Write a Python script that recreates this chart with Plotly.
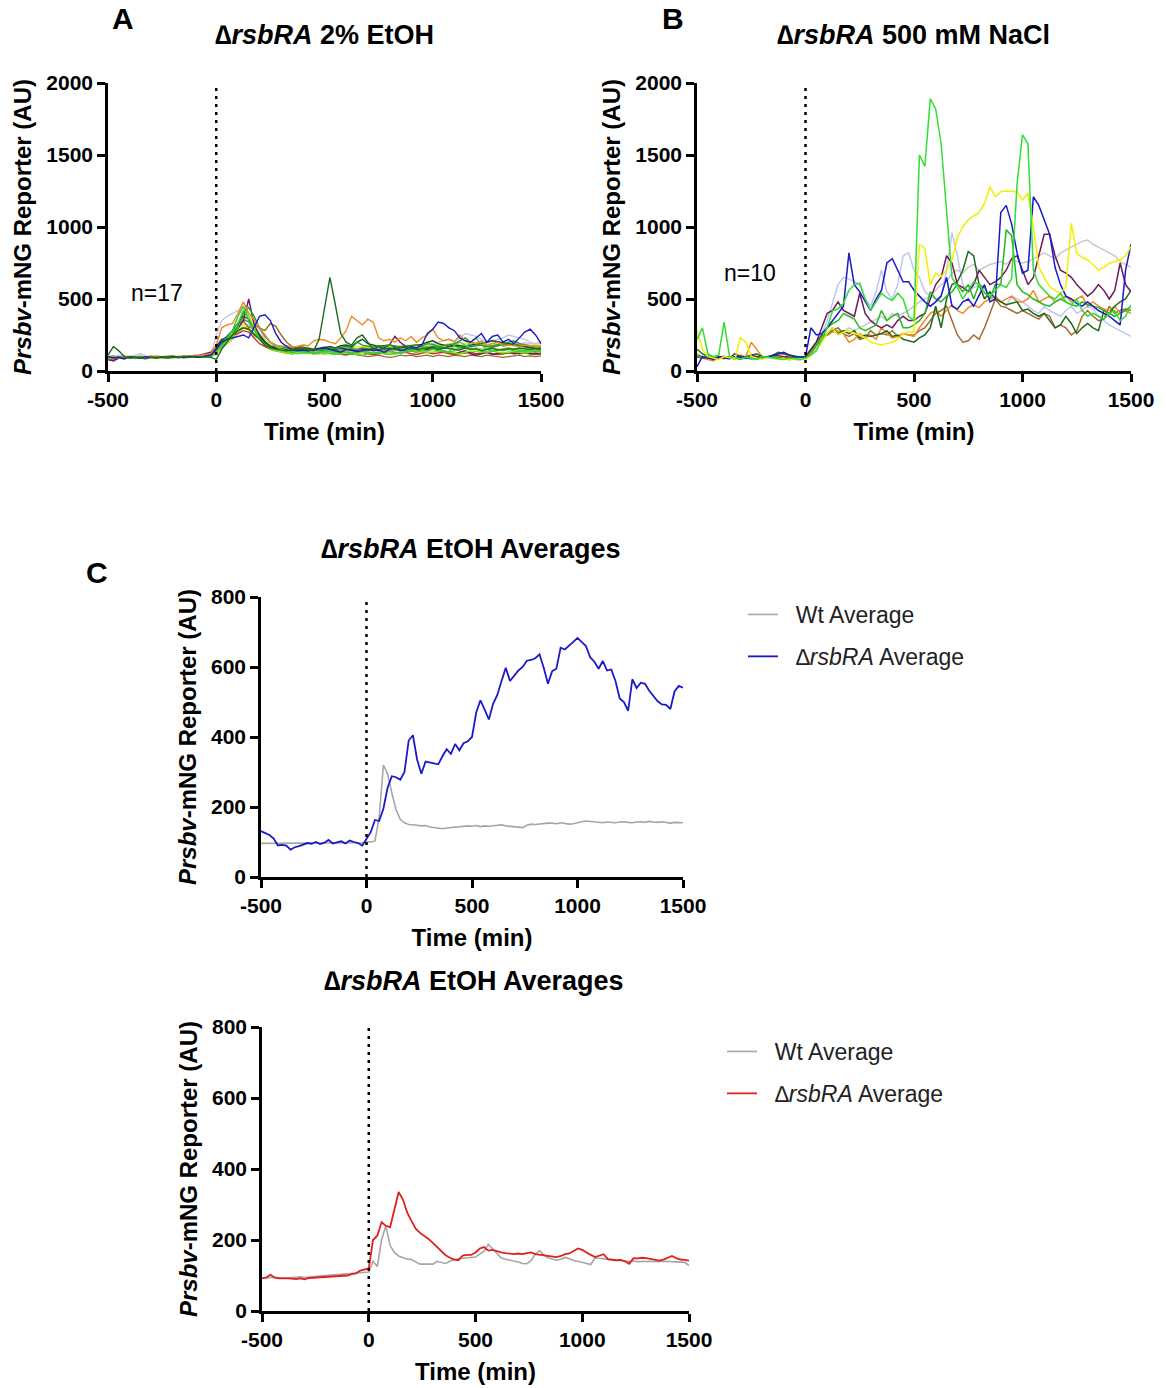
import plotly.graph_objects as go

FONT = "Liberation Sans"

# ---------------- time grids ----------------
T25 = list(range(-500, 1501, 25))   # single-cell traces (panels A, B)
T20 = list(range(-500, 1501, 20))   # averages (panel C)

X_TICKS = [-500, 0, 500, 1000, 1500]
Y_TICKS_AB = [0, 500, 1000, 1500, 2000]
Y_TICKS_C = [0, 200, 400, 600, 800]

# ---------------- Panel A : dRsbRA 2% EtOH (n=17) ----------------
a01_orange = [95,100,90,105,95,100,92,98,104,96,100,95,102,98,105,100,110,108,115,120,
              180,300,320,330,400,480,400,360,300,250,200,180,170,175,165,170,180,175,210,220,
              215,200,190,230,280,380,350,320,360,340,230,210,220,200,230,210,240,200,230,250,
              290,230,210,220,200,250,210,200,190,210,180,190,200,170,180,175,170,180,175,170,175]
a02_blue = [100,90,95,85,100,95,90,100,95,92,98,95,100,96,94,100,98,95,105,110,
            150,200,220,230,240,250,230,310,380,390,350,260,200,170,150,140,145,140,150,160,
            165,150,140,130,150,145,135,140,150,140,145,130,150,160,140,150,170,160,180,260,
            290,340,330,300,280,230,210,200,230,260,200,240,250,200,220,190,230,270,290,250,190]
a03_darkgreen = [110,170,140,100,90,95,92,88,95,90,100,95,98,92,100,95,102,98,100,95,
                 80,150,200,250,280,300,290,250,220,180,160,150,145,140,150,160,155,150,140,220,
                 440,650,460,260,200,180,230,250,200,150,170,155,160,150,160,165,160,150,155,160,
                 165,150,160,155,150,145,160,150,155,140,150,160,145,150,155,150,160,155,150,155,150]
a04_green = [90,95,100,92,98,88,95,100,96,92,98,100,95,102,98,100,105,100,98,100,
             130,200,230,280,380,450,350,280,220,180,160,150,140,135,130,140,135,130,125,130,
             140,135,130,140,130,125,135,140,130,120,130,135,140,130,125,135,140,130,145,140,
             150,140,135,130,140,150,160,200,230,180,150,140,145,140,150,140,135,145,140,135,140]
a05_lime = [85,90,95,88,92,86,90,95,92,88,90,94,92,95,90,96,98,95,100,102,
            120,180,210,240,300,420,380,300,220,180,150,140,130,125,120,130,125,120,130,125,
            120,130,125,120,130,125,120,130,135,125,130,120,130,125,130,135,140,130,135,130,
            130,140,135,130,125,120,130,140,135,130,135,140,130,125,130,135,130,125,130,135,130]
a06_maroon = [80,70,90,85,95,100,90,85,95,100,92,88,95,100,96,100,105,110,120,130,
              170,220,230,250,300,350,500,320,250,200,170,160,150,140,145,150,155,150,145,150,
              160,155,150,160,150,145,140,150,145,155,150,160,180,240,200,170,160,150,140,150,
              160,150,140,130,120,130,140,120,110,120,130,115,125,120,130,120,125,130,120,125,120]
a07_brown = [90,85,95,100,92,88,95,90,100,95,98,92,96,100,95,98,100,102,105,110,
             140,200,240,280,330,350,300,320,300,280,330,310,250,200,170,150,140,130,125,120,
             130,125,120,115,110,120,115,110,100,105,110,100,95,100,110,105,110,100,105,110,
             100,110,105,100,110,105,100,110,105,100,110,105,100,95,100,105,110,100,105,100,105]
a08_yellow = [100,95,90,100,105,95,98,92,100,96,102,98,95,100,105,98,100,102,100,105,
              130,170,200,230,270,320,300,260,220,180,160,150,145,140,150,145,150,155,150,160,
              155,150,160,165,150,155,160,170,165,160,170,175,165,170,160,175,170,165,180,175,
              170,180,175,190,180,185,190,200,180,190,185,180,175,185,190,180,185,175,170,180,175]
a09_lavender = [100,95,110,105,100,110,120,105,95,100,98,102,95,100,98,96,100,102,100,105,
                250,350,380,400,420,400,380,350,280,220,180,160,150,140,135,130,140,135,130,140,
                150,145,140,150,140,145,150,140,150,160,150,145,140,150,160,170,180,175,170,180,
                190,200,210,220,210,230,260,250,240,220,200,210,220,230,250,240,230,220,200,190,200]
a10_gray = [95,100,98,96,100,102,98,95,100,105,100,98,96,100,102,100,98,100,102,105,
            130,180,220,260,300,330,320,280,240,200,180,170,165,160,155,160,165,160,155,160,
            165,160,155,160,165,170,165,160,170,165,175,170,165,170,175,180,175,170,180,175,
            180,185,180,190,185,180,190,185,195,190,185,190,195,200,190,185,190,195,190,185,190]
a11_midgreen = [100,105,95,100,92,98,102,96,100,95,98,100,105,95,100,102,98,100,95,100,
                140,190,220,250,310,400,440,380,300,240,200,180,170,160,150,155,160,150,145,150,
                150,160,155,165,170,160,200,180,170,165,175,170,180,175,170,160,175,180,170,190,
                185,170,175,180,190,210,230,200,190,180,170,175,180,190,200,210,190,180,175,170,165]
a12_forest = [90,100,95,98,92,100,96,94,100,98,95,100,102,98,96,100,105,102,100,108,
              150,210,240,280,330,380,360,300,250,200,170,160,155,150,160,170,165,160,150,155,
              160,170,160,175,180,170,200,220,190,180,170,175,180,170,165,170,175,180,185,200,
              210,190,180,170,180,175,170,180,185,190,200,210,205,200,190,180,175,170,160,155,150]
a13_red = [80,75,90,95,92,88,95,90,100,96,94,98,100,96,102,100,104,108,112,118,
           160,200,230,250,260,280,270,230,190,170,150,140,130,125,120,125,130,125,120,125,
           120,125,130,120,115,120,125,130,120,115,120,125,130,120,125,130,120,115,125,130,
           120,125,130,120,115,120,125,130,120,125,130,120,115,120,125,130,120,125,120,115,120]
a14_brightgreen = [95,90,100,95,98,92,96,100,94,98,100,96,92,98,100,95,98,102,100,104,
                   140,180,220,260,330,420,400,360,300,250,200,170,150,140,130,120,125,130,120,125,
                   130,120,115,125,130,120,115,110,120,125,130,120,115,120,125,130,140,150,160,170,
                   160,150,140,130,180,200,180,160,150,140,130,135,140,150,160,150,140,135,130,140,135]
a15_yellowgreen = [100,95,90,95,100,92,98,100,95,90,96,100,98,95,100,98,102,100,104,100,
                   120,160,190,220,260,300,310,280,250,210,180,160,150,140,135,130,135,140,145,140,
                   135,140,150,145,140,135,140,145,150,140,145,150,155,150,145,150,160,155,150,145,
                   150,155,160,165,170,160,155,150,160,155,150,145,150,155,160,150,145,150,155,150,145]
a16_seagreen = [90,95,100,92,98,100,96,94,100,98,95,100,96,98,102,100,98,104,100,102,
                130,170,210,240,290,360,340,290,240,200,170,150,145,140,135,140,145,150,145,140,
                145,150,140,145,150,155,150,160,155,150,145,150,155,160,150,145,150,155,160,165,
                170,165,160,170,175,165,160,170,175,180,170,165,175,180,185,190,180,170,165,160,155]
a17_olive = [100,95,92,98,100,96,94,100,98,102,96,100,98,95,100,102,98,100,104,106,
             140,190,220,240,280,300,290,260,230,200,180,160,150,145,140,145,150,145,140,145,
             140,145,150,140,145,150,145,140,145,150,140,145,150,145,140,145,150,145,150,155,
             150,155,160,155,150,155,160,155,150,145,150,155,150,145,150,155,150,145,150,145,150]

A_SERIES = [a10_gray, a09_lavender, a08_yellow, a17_olive, a15_yellowgreen, a16_seagreen,
            a13_red, a07_brown, a06_maroon, a12_forest, a05_lime, a14_brightgreen,
            a11_midgreen, a04_green, a01_orange, a02_blue, a03_darkgreen]
A_COLORS = ["#c8c8c8", "#c4c4f2", "#eeee10", "#8a8a20", "#a8dc3c", "#2e8b57",
            "#c83232", "#9c6a2c", "#6e1a5e", "#1a4d1a", "#7cf000", "#4cd44c",
            "#20a020", "#33cc33", "#f08a24", "#1a1ac8", "#1e6b1e"]

# ---------------- Panel B : dRsbRA 500 mM NaCl (n=10) ----------------
b01_brightgreen = [220,300,120,100,110,340,100,90,85,95,90,80,100,95,90,85,80,90,85,80,
                   90,110,140,220,300,420,430,470,560,600,610,500,420,480,540,510,490,540,500,380,
                   350,1500,1420,1890,1820,1580,1120,650,580,500,560,620,600,540,520,560,600,580,640,1300,
                   1640,1580,700,600,560,520,500,540,480,460,500,420,380,400,380,360,400,420,350,380,460]
b02_yellow = [280,150,100,90,80,100,90,85,230,200,100,90,80,95,85,80,90,75,85,80,
              80,110,150,200,260,300,250,270,280,260,250,230,200,190,180,190,200,220,260,270,
              270,880,850,600,680,655,700,770,930,1000,1050,1080,1100,1164,1280,1210,1245,1250,1245,1245,
              1187,1234,1002,724,650,585,560,539,585,1025,817,790,771,740,701,720,748,760,771,800,863]
b03_blue = [30,100,90,80,95,90,85,100,95,90,85,90,100,95,110,120,130,110,100,95,
            100,300,250,260,300,350,400,450,820,600,550,480,420,500,560,750,780,700,620,620,
            560,520,480,450,480,520,650,450,430,480,500,450,520,600,480,500,1100,1150,1020,820,
            680,700,1210,1150,1050,950,720,600,520,500,470,450,480,450,420,400,380,350,320,700,880]
b04_lavender = [120,100,90,95,100,90,85,95,100,90,95,85,90,95,100,90,95,85,80,75,
                90,120,180,250,350,480,600,650,640,620,600,500,450,550,700,550,500,600,800,820,
                700,650,550,520,500,520,700,960,800,600,550,580,600,550,500,520,480,450,520,500,
                480,450,420,400,450,420,400,380,420,450,400,420,450,430,380,350,320,300,280,260,240]
b05_gray = [100,95,90,100,95,90,100,95,90,85,95,100,95,90,100,95,90,95,100,95,
            100,120,160,220,250,280,260,270,300,280,300,320,340,360,380,350,400,380,400,420,
            450,480,500,520,560,600,620,680,700,680,720,740,700,720,740,750,760,740,780,760,
            750,760,780,800,820,800,780,820,840,860,880,900,910,880,860,840,820,800,760,740,720]
b06_maroon = [100,90,95,85,100,95,90,120,100,95,110,100,95,100,110,105,100,95,90,95,
              100,150,200,300,400,420,480,420,400,380,540,400,350,320,300,320,300,350,380,350,
              350,380,400,500,600,650,800,750,600,580,550,600,700,650,600,620,650,700,780,800,
              700,600,650,800,950,950,800,700,680,650,600,560,520,550,600,560,500,560,750,600,550]
b07_darkgreen = [150,120,100,90,95,100,90,85,100,95,110,120,100,95,110,130,120,110,100,95,
                 100,150,200,250,250,300,260,280,260,280,230,250,240,250,260,280,240,250,220,210,
                 200,230,250,300,450,300,500,600,620,700,830,800,600,500,550,500,480,460,470,480,
                 420,430,400,380,400,350,300,320,380,330,260,300,330,300,280,420,400,450,480,500,560]
b08_orange = [100,90,80,70,95,100,90,85,110,100,200,150,100,95,100,110,120,100,90,95,
              100,130,180,250,250,270,280,260,200,220,260,230,250,220,300,260,230,240,260,250,
              240,300,350,400,420,380,420,460,420,400,440,460,440,480,500,520,480,500,520,480,
              480,500,560,480,500,520,480,500,520,480,500,520,450,480,450,430,420,450,400,420,400]
b09_brown = [110,100,90,95,85,100,95,90,100,95,90,85,90,100,95,90,95,100,90,95,
             100,140,180,220,260,280,300,260,240,260,220,230,280,250,260,250,280,240,260,250,
             250,280,300,350,400,420,450,350,250,200,210,250,220,300,400,500,450,440,420,400,
             420,400,380,360,400,380,300,320,300,250,280,380,420,380,350,360,450,400,420,430,420]
b10_green = [100,95,110,90,95,85,100,90,80,95,100,85,90,95,100,90,85,80,90,100,
             90,120,180,220,300,330,350,400,380,360,300,280,300,320,420,350,380,400,300,300,
             320,350,400,550,500,480,520,550,600,550,600,500,600,580,500,600,600,980,940,600,
             550,530,500,480,460,450,480,500,480,460,450,480,460,450,440,420,400,380,400,420,450]

B_SERIES = [b05_gray, b04_lavender, b09_brown, b08_orange, b07_darkgreen, b06_maroon,
            b10_green, b03_blue, b02_yellow, b01_brightgreen]
B_COLORS = ["#c8c8c8", "#c4c4f2", "#a36a2c", "#f08a24", "#1e6b1e", "#6e1a5e",
            "#22bb22", "#1a1ac8", "#f0f000", "#33dd33"]

# ---------------- Panel C : averages ----------------
wt_avg_top = [96,96,96,96,96,96,96,96,97,97,97,97,97,97,97,97,98,98,98,98,98,98,98,98,98,
              100,100,103,170,320,295,240,192,165,155,150,150,148,146,147,143,142,140,138,140,141,142,145,146,146,
              145,147,144,146,145,146,147,149,146,145,143,142,141,148,151,150,152,153,154,154,152,155,153,151,152,
              156,158,160,159,157,156,155,157,156,155,157,158,156,155,157,158,156,159,157,156,158,155,154,156,155,155]
rsbra_avg_top = [131,125,120,110,90,92,90,78,85,88,92,97,95,100,94,98,106,96,99,102,96,104,100,97,90,
                 110,128,163,160,195,255,288,285,278,300,390,405,335,295,330,327,325,322,345,365,352,380,362,382,388,
                 400,470,505,478,450,495,520,560,598,560,574,590,600,618,620,625,636,598,552,588,595,655,650,660,672,
                 683,670,660,628,615,595,617,590,593,560,510,500,475,565,540,555,552,532,518,502,493,492,480,530,546,541]
wt_avg_bot = [93,92,95,94,93,92,93,94,95,96,94,96,97,98,99,100,101,100,101,102,103,104,105,106,108,
              110,140,125,200,240,185,165,155,150,146,145,138,132,132,131,132,140,137,134,140,145,147,148,150,151,
              152,160,168,188,175,165,150,146,144,141,138,134,133,142,160,170,158,150,146,143,146,151,147,142,140,
              137,133,131,150,148,146,145,144,143,143,141,140,141,139,140,141,140,139,140,141,140,139,138,138,137,128]
rsbra_avg_bot = [92,95,102,94,92,93,92,91,90,92,89,93,94,95,96,96,97,98,99,100,100,104,106,114,117,
                 120,200,212,250,240,236,285,335,314,278,254,232,220,212,203,192,180,167,157,150,145,143,156,158,158,
                 165,176,180,170,172,168,165,163,162,160,162,160,163,165,160,158,158,155,154,152,155,160,162,168,176,
                 172,164,158,152,156,160,146,144,143,144,140,133,149,148,150,149,146,143,142,145,150,155,149,145,144,142]

GAP = "\u00a0\u00a0"
LEGEND_WT = GAP + "Wt Average"
LEGEND_MUT = GAP + "<i>\u2206rsbRA</i> Average"

# ---------------- figure ----------------
W, H = 1166, 1388
fig = go.Figure()

for ys, col in zip(A_SERIES, A_COLORS):
    fig.add_trace(go.Scatter(x=T25, y=ys, mode="lines", line=dict(color=col, width=1.4),
                             xaxis="x", yaxis="y", showlegend=False, hoverinfo="skip"))
for ys, col in zip(B_SERIES, B_COLORS):
    fig.add_trace(go.Scatter(x=T25, y=ys, mode="lines", line=dict(color=col, width=1.5),
                             xaxis="x2", yaxis="y2", showlegend=False, hoverinfo="skip"))

fig.add_trace(go.Scatter(x=T20, y=wt_avg_top, mode="lines", name=LEGEND_WT,
                         line=dict(color="#a6a6a6", width=1.6), xaxis="x3", yaxis="y3",
                         legend="legend", legendgroup="wt1"))
fig.add_trace(go.Scatter(x=T20, y=rsbra_avg_top, mode="lines", name=LEGEND_MUT,
                         line=dict(color="#1a1ac8", width=1.8), xaxis="x3", yaxis="y3",
                         legend="legend", legendgroup="mut1"))
fig.add_trace(go.Scatter(x=T20, y=wt_avg_bot, mode="lines", name=LEGEND_WT,
                         line=dict(color="#a6a6a6", width=1.6), xaxis="x4", yaxis="y4",
                         legend="legend2", legendgroup="wt2"))
fig.add_trace(go.Scatter(x=T20, y=rsbra_avg_bot, mode="lines", name=LEGEND_MUT,
                         line=dict(color="#e02020", width=1.8), xaxis="x4", yaxis="y4",
                         legend="legend2", legendgroup="mut2"))


def px_x(p):
    return p / W


def px_y(p):
    return 1 - p / H


tickfont = dict(family=FONT, size=21, color="black", weight="bold")
titlefont = dict(family=FONT, size=24, color="black")


def xaxis_cfg(x0, x1, anchor):
    return dict(domain=[px_x(x0), px_x(x1)], anchor=anchor, range=[-500, 1500],
                tickmode="array", tickvals=X_TICKS, ticktext=[str(v) for v in X_TICKS],
                showline=True, linecolor="black", linewidth=2.6, mirror=False,
                ticks="outside", ticklen=8, tickwidth=2.6, tickcolor="black",
                showgrid=False, zeroline=False, tickfont=tickfont, automargin=False,
                title=dict(text="<b>Time (min)</b>", font=titlefont, standoff=14))


def yaxis_cfg(y0, y1, anchor, rng, ticks, standoff):
    return dict(domain=[px_y(y1), px_y(y0)], anchor=anchor, range=rng,
                tickmode="array", tickvals=ticks, ticktext=[str(v) for v in ticks],
                showline=True, linecolor="black", linewidth=2.6,
                ticks="outside", ticklen=8, tickwidth=2.6, tickcolor="black",
                showgrid=False, zeroline=False, tickfont=tickfont, automargin=False,
                title=dict(text="<b><i>Prsbv</i>-mNG Reporter (AU)</b>", font=titlefont,
                           standoff=standoff))


legend_font = dict(family=FONT, size=23, color="#222222")

layout = dict(
    width=W, height=H, margin=dict(l=0, r=0, t=0, b=0),
    paper_bgcolor="white", plot_bgcolor="white",
    font=dict(family=FONT, color="black"),
    xaxis=xaxis_cfg(108, 541, "y"),
    yaxis=yaxis_cfg(83, 371, "x", [0, 2000], Y_TICKS_AB, 8),
    xaxis2=xaxis_cfg(697, 1131, "y2"),
    yaxis2=yaxis_cfg(83, 371, "x2", [0, 2000], Y_TICKS_AB, 8),
    xaxis3=xaxis_cfg(261, 683, "y3"),
    yaxis3=yaxis_cfg(597, 877, "x3", [0, 800], Y_TICKS_C, 8),
    xaxis4=xaxis_cfg(262, 689, "y4"),
    yaxis4=yaxis_cfg(1027, 1311, "x4", [0, 800], Y_TICKS_C, 8),
    legend=dict(x=px_x(743), y=px_y(593), xanchor="left", yanchor="top",
                font=legend_font, bgcolor="rgba(0,0,0,0)", tracegroupgap=9, itemwidth=30),
    legend2=dict(x=px_x(722), y=px_y(1030), xanchor="left", yanchor="top",
                 font=legend_font, bgcolor="rgba(0,0,0,0)", tracegroupgap=9, itemwidth=30),
)
fig.update_layout(**layout)

# dotted stimulus line at t = 0
for xr, yr, ytop in [("x", "y", 2000), ("x2", "y2", 2000), ("x3", "y3", 800), ("x4", "y4", 800)]:
    fig.add_shape(type="line", xref=xr, yref=yr, x0=0, x1=0, y0=0, y1=ytop,
                  line=dict(color="black", width=2.5, dash="3px,5px"))

ann = []
# panel titles
for text, cx, cy in [("<b><i>\u2206rsbRA</i> 2% EtOH</b>", 324, 35),
                     ("<b><i>\u2206rsbRA</i> 500 mM NaCl</b>", 913, 35),
                     ("<b><i>\u2206rsbRA</i> EtOH Averages</b>", 471, 549),
                     ("<b><i>\u2206rsbRA</i> EtOH Averages</b>", 474, 981)]:
    ann.append(dict(text=text, x=px_x(cx), y=px_y(cy), xref="paper", yref="paper",
                    xanchor="center", yanchor="middle", showarrow=False,
                    font=dict(family=FONT, size=27, color="black")))
# panel letters
for text, cx, cy in [("A", 123, 19), ("B", 673, 19), ("C", 97, 572)]:
    ann.append(dict(text="<b>" + text + "</b>", x=px_x(cx), y=px_y(cy), xref="paper", yref="paper",
                    xanchor="center", yanchor="middle", showarrow=False,
                    font=dict(family=FONT, size=30, color="black")))
# n labels
ann.append(dict(text="n=17", x=-274, y=542, xref="x", yref="y", showarrow=False,
                font=dict(family=FONT, size=23, color="black")))
ann.append(dict(text="n=10", x=-255, y=680, xref="x2", yref="y2", showarrow=False,
                font=dict(family=FONT, size=23, color="black")))
fig.update_layout(annotations=ann)

fig.write_html("out.html")
